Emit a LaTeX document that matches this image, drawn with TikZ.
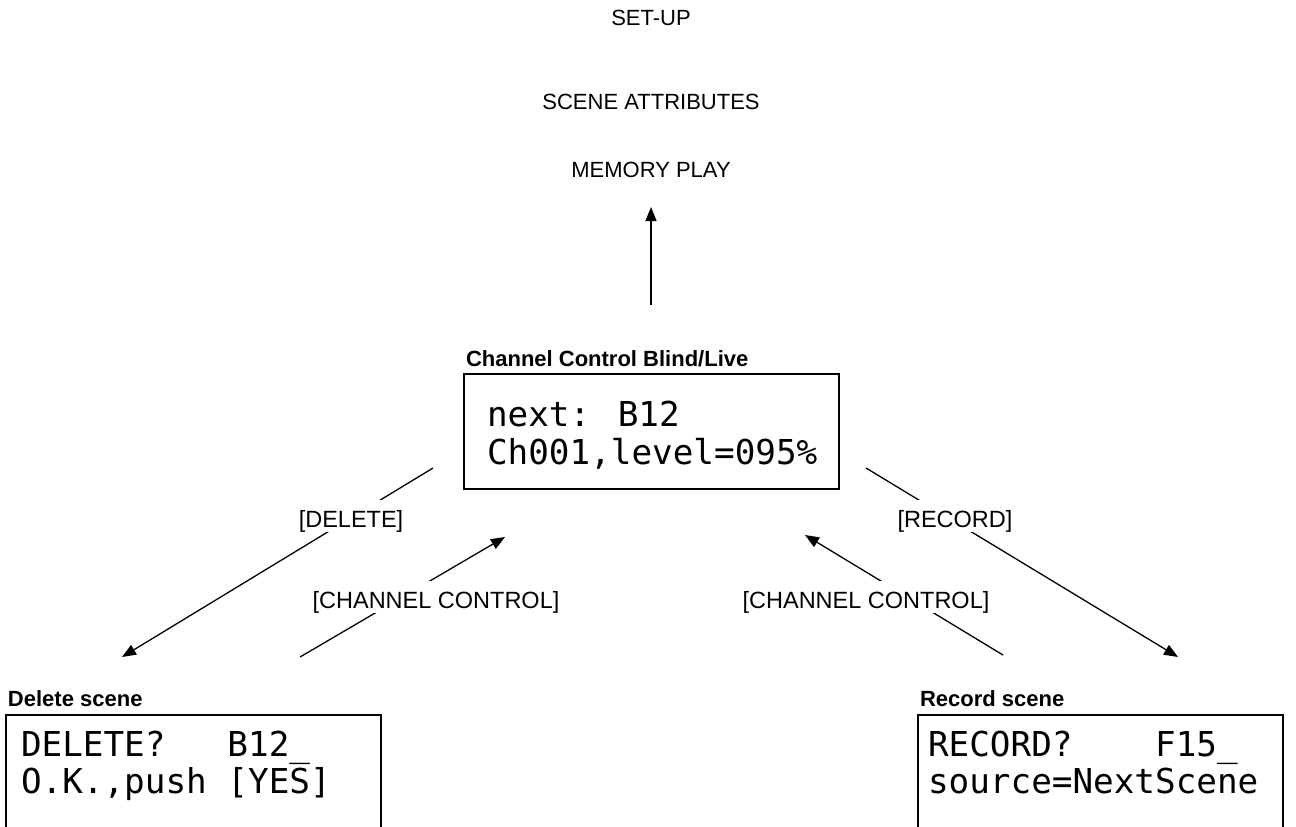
\documentclass[tikz,border=0pt]{standalone}
\usepackage{fontspec}
\setmainfont{Liberation Sans}
\newfontfamily\lcdfont{DejaVu Sans Mono}
\usetikzlibrary{arrows.meta}
\begin{document}
\begin{tikzpicture}[x=1pt,y=-1pt,
  every node/.style={inner sep=0pt, outer sep=0pt},
  menu/.style={font=\fontsize{22}{26}\selectfont, anchor=base},
  title/.style={font=\fontsize{22}{26}\selectfont\bfseries, anchor=base west},
  lcd/.style={font=\lcdfont\fontsize{34.3}{38}\selectfont, anchor=base west},
  screen/.style={draw, line width=1.4pt, anchor=north west},
  key/.style={font=\fontsize{23.5}{27}\selectfont, anchor=base, fill=white, text height=27pt, text depth=5pt, inner xsep=3pt},
  conn/.style={line width=1.3pt, -{Triangle[length=14pt,width=11pt]}}
]
\useasboundingbox (0,0) rectangle (1296,827);
\clip (0,0) rectangle (1296,827);

% menu items
\node[menu] (setup) at (651,25) {SET-UP};
\node[menu] (attr) at (651,109) {SCENE ATTRIBUTES};
\node[menu] (mplay) at (651,177) {MEMORY PLAY};

% main screen
\node[title] (livet) at (466,366) {Channel Control Blind/Live};
\node[screen, minimum width=375pt, minimum height=115pt] (live) at (464,374) {};
\node[lcd] (live1) at (487,426) {next: B12};
\node[lcd] (live2) at (487,464) {Ch001,level=095\%};

% delete screen
\node[title] (delt) at (8,706) {Delete scene};
\node[screen, minimum width=375pt, minimum height=150pt] (del) at (6,715) {};
\node[lcd] (del1) at (21,756) {DELETE?\ \ \ B12\_};
\node[lcd] (del2) at (21,793) {O.K.,push [YES]};

% record screen
\node[title] (rect) at (920,706) {Record scene};
\node[screen, minimum width=365pt, minimum height=150pt] (rec) at (918,715) {};
\node[lcd] (rec1) at (928,756) {RECORD?\ \ \ \ F15\_};
\node[lcd] (rec2) at (928,793) {source=NextScene};

% connector end points
\coordinate (upS) at (651,305);
\coordinate (upT) at (651,207);
\coordinate (dS) at (433,468);
\coordinate (dT) at (122,657);
\coordinate (clS) at (300,657);
\coordinate (clT) at (505,537);
\coordinate (rS) at (866,468);
\coordinate (rT) at (1178,657);
\coordinate (crS) at (1003,655);
\coordinate (crT) at (805,535);

\draw[conn] (upS) -- (upT);
\draw[conn] (dS) -- (dT);
\draw[conn] (clS) -- (clT);
\draw[conn] (rS) -- (rT);
\draw[conn] (crS) -- (crT);

% key labels
\node[key] (kdel) at (351,527) {[DELETE]};
\node[key] (kcl) at (436,608) {[CHANNEL CONTROL]};
\node[key] (krec) at (955,527) {[RECORD]};
\node[key] (kcr) at (866,608) {[CHANNEL CONTROL]};
\end{tikzpicture}
\end{document}
